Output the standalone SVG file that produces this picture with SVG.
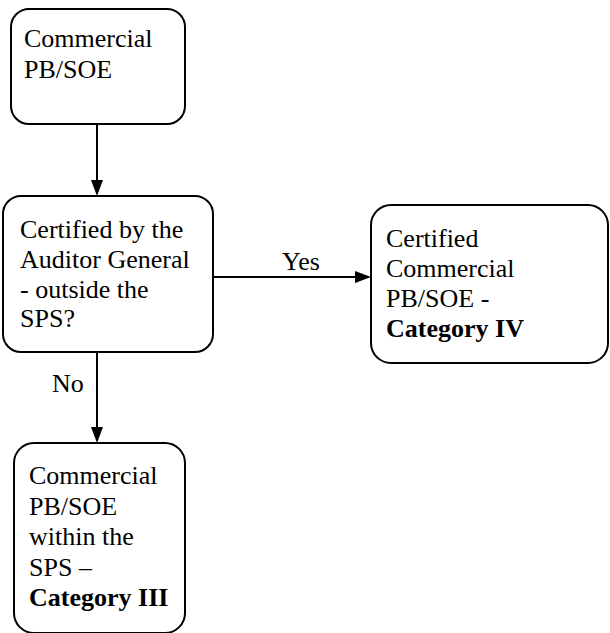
<svg xmlns="http://www.w3.org/2000/svg" width="610" height="633" viewBox="0 0 610 633">
<style>
.box{fill:#fff;stroke:#000;stroke-width:2}
.t{font-family:'Liberation Serif','Times New Roman',serif;font-size:26px;fill:#000}
.b{font-weight:bold}
.c{stroke:#000;stroke-width:2;fill:none}
.ah{fill:#000;stroke:none}
</style>
<rect width="610" height="633" fill="#fff"/>
<g id="connectors">
<line class="c" x1="97" y1="125" x2="97" y2="182"/>
<path class="ah" d="M91,180 L97,196 L103,180 z"/>
<line class="c" x1="213" y1="277" x2="357" y2="277"/>
<path class="ah" d="M355,271 L371,277 L355,283 z"/>
<line class="c" x1="97" y1="352" x2="97" y2="429"/>
<path class="ah" d="M91,427 L97,443 L103,427 z"/>
<text class="t" x="282" y="270">Yes</text>
<text class="t" x="52" y="392">No</text>
</g>
<g id="n1">
<rect class="box" x="11" y="9" width="174" height="115" rx="18"/>
<text class="t" x="24" y="47">Commercial</text>
<text class="t" x="24" y="78">PB/SOE</text>
</g>
<g id="n2">
<rect class="box" x="3" y="196" width="210" height="156" rx="18"/>
<text class="t" x="20" y="238">Certified by the</text>
<text class="t" x="20" y="268">Auditor General</text>
<text class="t" x="20" y="298">- outside the</text>
<text class="t" x="20" y="327">SPS?</text>
</g>
<g id="n3">
<rect class="box" x="371" y="205" width="237" height="158" rx="20"/>
<text class="t" x="386" y="247">Certified</text>
<text class="t" x="386" y="277">Commercial</text>
<text class="t" x="386" y="307">PB/SOE -</text>
<text class="t b" x="386" y="337">Category IV</text>
</g>
<g id="n4">
<rect class="box" x="14" y="443" width="171" height="190" rx="20"/>
<text class="t" x="29" y="484">Commercial</text>
<text class="t" x="29" y="515">PB/SOE</text>
<text class="t" x="29" y="545">within the</text>
<text class="t" x="29" y="576">SPS –</text>
<text class="t b" x="29" y="606">Category III</text>
</g>
</svg>
